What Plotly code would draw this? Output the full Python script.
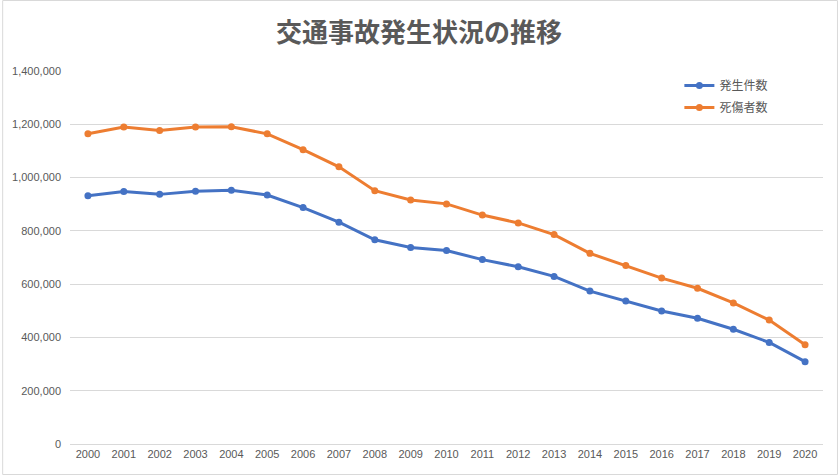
import plotly.graph_objects as go

years = [str(y) for y in range(2000, 2021)]
accidents = [931950, 947253, 936950, 948366, 952720, 934346, 887267, 832704, 766394, 737637,
             725924, 692084, 665157, 629033, 573842, 536899, 499201, 472165, 430601, 381237, 309178]
casualties = [1164780, 1189796, 1176425, 1189449, 1191053, 1164050, 1104614, 1040448, 950912, 916194,
              901245, 859304, 829834, 785880, 715487, 670140, 622757, 584544, 529378, 464990, 372315]
series_names = ["発生件数", "死傷者数"]
y_ticks = [0, 200000, 400000, 600000, 800000, 1000000, 1200000, 1400000]
y_tick_labels = ["0", "200,000", "400,000", "600,000", "800,000", "1,000,000", "1,200,000", "1,400,000"]
title_text = "交通事故発生状況の推移"

W, H = 838, 475
ML, MR, MT, MB = 68, 15, 71, 31
FONT = "Noto Sans CJK JP"

fig = go.Figure()
for name, vals, color, grp in [(series_names[0], accidents, "#4472C4", "a"),
                               (series_names[1], casualties, "#ED7D31", "b")]:
    fig.add_trace(go.Scatter(
        x=years, y=vals, name=name, mode="lines+markers", legendgroup=grp,
        line=dict(color=color, width=3),
        marker=dict(color=color, size=7),
    ))

pw = W - ML - MR
ph = H - MT - MB
fig.update_layout(
    width=W, height=H,
    margin=dict(l=ML, r=MR, t=MT, b=MB),
    paper_bgcolor="white", plot_bgcolor="white",
    font=dict(family=FONT, color="#595959", size=11),
    title=dict(text=title_text, x=0.5, xanchor="center", y=1 - 33 / H, yanchor="middle",
               font=dict(family=FONT, size=26, color="#595959", weight="bold")),
    showlegend=True,
    legend=dict(x=(679 - ML) / pw, y=1 - (71 - MT) / ph, xanchor="left", yanchor="top",
                bgcolor="rgba(0,0,0,0)", font=dict(size=12, color="#595959"),
                tracegroupgap=3, itemwidth=30),
    xaxis=dict(type="category", range=[-0.5, len(years) - 0.5], showgrid=False,
               showline=True, linecolor="#D9D9D9", linewidth=1, zeroline=False,
               ticks="", tickfont=dict(size=11, color="#595959", family="Liberation Sans")),
    yaxis=dict(range=[0, 1400000], tickvals=y_ticks, ticktext=y_tick_labels,
               showgrid=True, gridcolor="#D9D9D9", gridwidth=1, zeroline=False,
               showline=False, ticks="", ticklabelstandoff=8,
               tickfont=dict(size=11, color="#595959", family="Liberation Sans")),
    shapes=[dict(type="rect", xref="paper", yref="paper",
                 x0=-(ML - 0.5) / pw, x1=1 + (MR - 0.5) / pw,
                 y0=-(MB - 0.5) / ph, y1=1 + (MT - 0.5) / ph,
                 line=dict(color="#D9D9D9", width=1), layer="below")],
)

fig.write_html("out.html", config={"displayModeBar": False},
               post_script="document.body.style.margin='0';")
